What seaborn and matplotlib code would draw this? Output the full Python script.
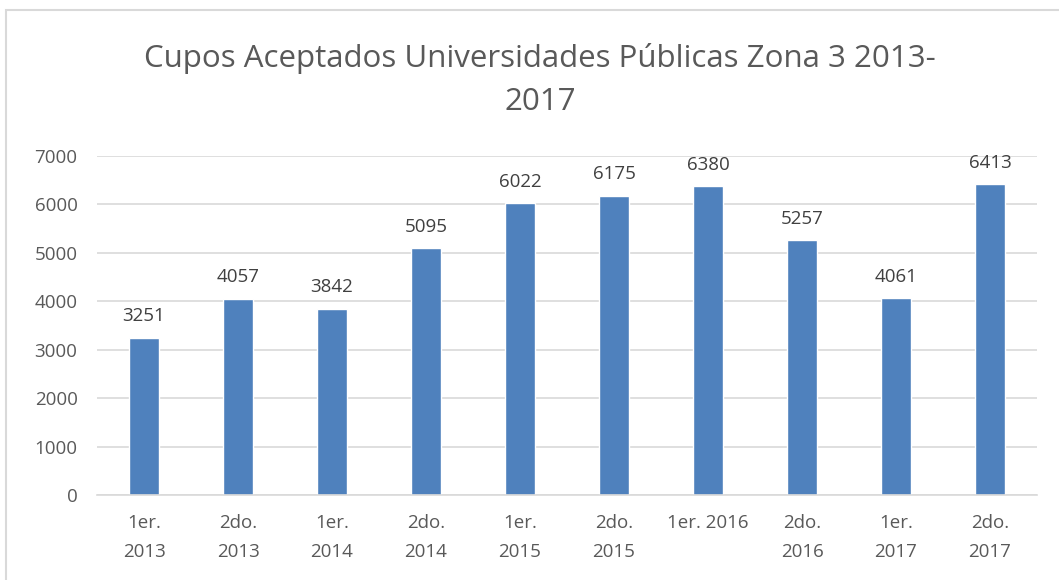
import numpy as np
import pandas as pd
import matplotlib
matplotlib.use("Agg")
import matplotlib.pyplot as plt
import matplotlib.patches as mpatches
import seaborn as sns

# data
periods = ["1er.\n2013", "2do.\n2013", "1er.\n2014", "2do.\n2014", "1er.\n2015",
           "2do.\n2015", "1er. 2016", "2do.\n2016", "1er.\n2017", "2do.\n2017"]
cupos = [3251, 4057, 3842, 5095, 6022, 6175, 6380, 5257, 4061, 6413]

df = pd.DataFrame({"periodo": periods, "cupos": cupos})

sns.set_theme(style="white")
plt.rcParams['font.family'] = ['Open Sans', 'DejaVu Sans']

fig = plt.figure(figsize=(10.59, 5.80), dpi=100)
ax = fig.add_axes([97 / 1059, 1 - 495 / 580, (1037 - 97) / 1059, (495 - 156) / 580])

sns.barplot(data=df, x="periodo", y="cupos", color="#4F81BD", width=0.31,
            saturation=1, ax=ax)

ax.set_ylim(0, 7000)
ax.set_yticks(np.arange(0, 7001, 1000))
ax.yaxis.grid(True, color="#d9d9d9", linewidth=1.2)
ax.set_axisbelow(True)
for s in ["top", "right", "left"]:
    ax.spines[s].set_visible(False)
ax.spines["bottom"].set_color("#d9d9d9")
ax.spines["bottom"].set_linewidth(1.2)
ax.set_xlabel("")
ax.set_ylabel("")
ax.tick_params(axis="both", length=0, labelsize=13.5, labelcolor="#595959")
ax.tick_params(axis="y", pad=14)
ax.tick_params(axis="x", pad=14)
for lbl in ax.get_xticklabels():
    lbl.set_linespacing(1.75)

for c in ax.containers:
    ax.bar_label(c, labels=[str(v) for v in cupos], padding=9, fontsize=13.5, color="#404040")

fig.text(0.51, 1 - 80 / 580, "Cupos Aceptados Universidades Públicas Zona 3 2013-\n2017",
         ha="center", va="center", fontsize=22.5, color="#595959", linespacing=1.55)

# chart frame
fig.patches.append(mpatches.Rectangle((6 / 1059, -0.1), 1.2, 1 - 10 / 580 + 0.1,
                                      transform=fig.transFigure, fill=False,
                                      edgecolor="#d9d9d9", linewidth=1.5))

fig.savefig("out.png", dpi=100)
